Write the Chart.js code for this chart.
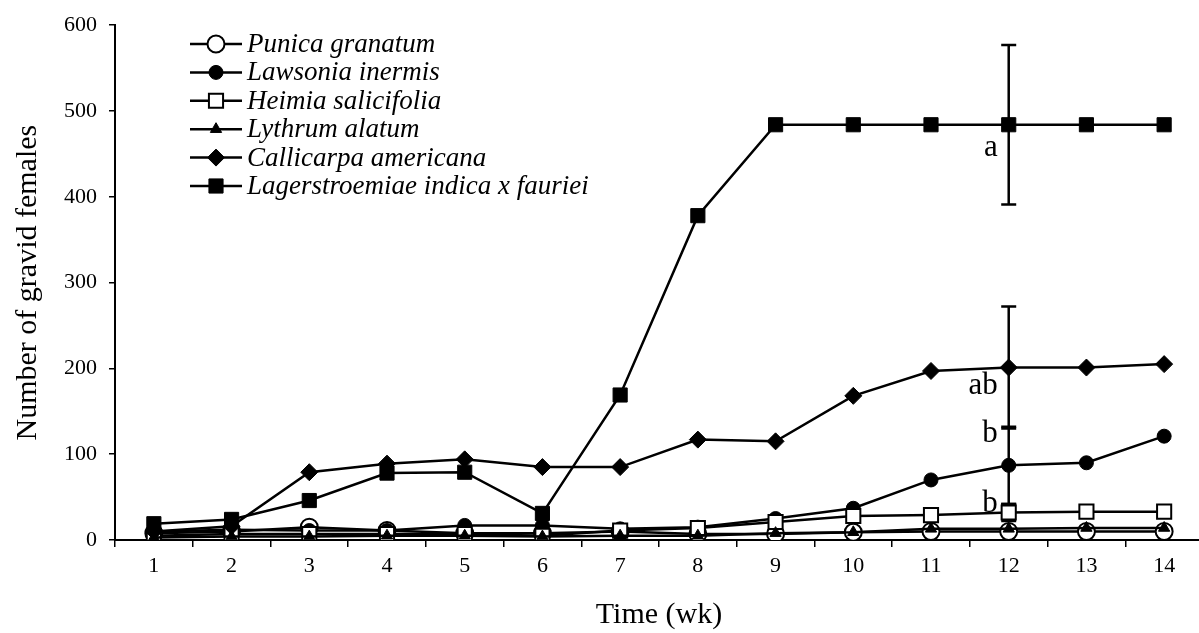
<!DOCTYPE html>
<html>
<head>
<meta charset="utf-8">
<script src="https://cdn.jsdelivr.net/npm/chart.js@4/dist/chart.umd.min.js"></script>
<style>
html,body{margin:0;padding:0;background:#fff;overflow:hidden;}
#wrap{position:relative;width:1215px;height:633px;}
</style>
</head>
<body>
<div id="wrap"><canvas id="c"></canvas></div>
<script>
// ---- data ----
const weeks = ['1','2','3','4','5','6','7','8','9','10','11','12','13','14'];
const seriesNames = ['Punica granatum','Lawsonia inermis','Heimia salicifolia','Lythrum alatum','Callicarpa americana','Lagerstroemiae indica x fauriei'];
const punica        = [8, 10, 15, 11, 8, 8, 10, 7, 7, 9, 10, 10, 10, 10];
const lawsonia      = [10, 12, 11, 11, 17, 17, 13, 15, 25, 37, 70, 87, 90, 121];
const heimia        = [5, 7, 7, 7, 7, 5, 11, 14, 21, 28, 29, 32, 33, 33];
const lythrum       = [3, 4, 4, 5, 5, 4, 5, 5, 8, 9, 13, 13, 14, 14];
const callicarpa    = [10, 16, 79, 89, 94, 85, 85, 117, 115, 168, 197, 201, 201, 205];
const lagerstroemia = [19, 24, 46, 78, 79, 31, 169, 378, 484, 484, 484, 484, 484, 484];
const yTicks = [0, 100, 200, 300, 400, 500, 600];
// error bars at week 12
const errWeek = '12';
const errCenters = [484, 201, 87, 32];
const errHalf    = [93, 71, 45, 10];
// significance letters
const sigLetters = ['a', 'ab', 'b', 'b'];
const sigValues  = [457, 180, 124, 42];

const serif = '"Liberation Serif", "Times New Roman", serif';
const styles = [
  {pointStyle:'circle', radius:8.5, bg:'#fff', bw:2},
  {pointStyle:'circle', radius:7, bg:'#000', bw:1},
  {pointStyle:'rect', radius:10, bg:'#fff', bw:2},
  {pointStyle:'triangle', radius:6.5, bg:'#000', bw:1},
  {pointStyle:'rectRot', radius:8.5, bg:'#000', bw:1},
  {pointStyle:'rect', radius:10, bg:'#000', bw:1}
];
const allData = [punica, lawsonia, heimia, lythrum, callicarpa, lagerstroemia];

const datasets = allData.map((d, i) => ({
  label: seriesNames[i],
  data: d,
  borderColor: '#000',
  borderWidth: 2.5,
  pointStyle: styles[i].pointStyle,
  pointRadius: styles[i].radius,
  pointHoverRadius: styles[i].radius,
  pointBackgroundColor: styles[i].bg,
  pointBorderColor: '#000',
  pointBorderWidth: styles[i].bw,
  fill: false,
  tension: 0,
  order: 6 - i
}));

const errorBarPlugin = {
  id: 'errbars',
  beforeDatasetsDraw(chart) {
    const ctx = chart.ctx, x = chart.scales.x, y = chart.scales.y;
    const px = x.getPixelForValue(weeks.indexOf(errWeek));
    ctx.save();
    ctx.strokeStyle = '#000';
    ctx.lineWidth = 2.5;
    errCenters.forEach((c, i) => {
      const top = y.getPixelForValue(c + errHalf[i]);
      const bot = y.getPixelForValue(c - errHalf[i]);
      ctx.beginPath();
      ctx.moveTo(px, top); ctx.lineTo(px, bot);
      ctx.moveTo(px - 7.5, top); ctx.lineTo(px + 7.5, top);
      ctx.moveTo(px - 7.5, bot); ctx.lineTo(px + 7.5, bot);
      ctx.stroke();
    });
    ctx.restore();
  },
  afterDatasetsDraw(chart) {
    const ctx = chart.ctx, x = chart.scales.x, y = chart.scales.y;
    const px = x.getPixelForValue(weeks.indexOf(errWeek));
    ctx.save();
    ctx.fillStyle = '#000';
    ctx.font = '31px ' + serif;
    ctx.textAlign = 'right';
    ctx.textBaseline = 'middle';
    sigLetters.forEach((t, i) => {
      ctx.fillText(t, px - 11, y.getPixelForValue(sigValues[i]));
    });
    ctx.restore();
  }
};

const legendPlugin = {
  id: 'customLegend',
  afterDraw(chart) {
    const ctx = chart.ctx;
    const x0 = 190, x1 = 242, xm = 216, tx = 247, y0 = 44, dy = 28.4;
    ctx.save();
    seriesNames.forEach((name, i) => {
      const yy = y0 + i * dy;
      ctx.strokeStyle = '#000';
      ctx.lineWidth = 2.5;
      ctx.beginPath(); ctx.moveTo(x0, yy); ctx.lineTo(x1, yy); ctx.stroke();
      ctx.fillStyle = styles[i].bg;
      ctx.lineWidth = styles[i].bw;
      Chart.helpers.drawPoint(ctx, {pointStyle: styles[i].pointStyle, radius: styles[i].radius, rotation: 0, borderWidth: styles[i].bw}, xm, yy);
      ctx.fillStyle = '#000';
      ctx.font = 'italic 27px ' + serif;
      ctx.textAlign = 'left';
      ctx.textBaseline = 'middle';
      ctx.fillText(name, tx, yy + 1);
    });
    ctx.restore();
  }
};

new Chart(document.getElementById('c'), {
  type: 'line',
  data: { labels: weeks, datasets },
  plugins: [errorBarPlugin, legendPlugin],
  options: {
    responsive: true,
    maintainAspectRatio: false,
    animation: false,
    events: [],
    layout: { padding: { top: 24, right: 0, left: 0, bottom: 0 } },
    plugins: { legend: { display: false }, tooltip: { enabled: false } },
    scales: {
      x: {
        type: 'category',
        offset: true,
        grid: { offset: true, drawOnChartArea: false, drawTicks: true, tickLength: 7, color: '#000', lineWidth: 1.5 },
        border: { color: '#000', width: 2 },
        ticks: { color: '#000', font: { family: serif, size: 22 }, padding: 6, maxRotation: 0, autoSkip: false },
        title: { display: true, text: 'Time (wk)', color: '#000', font: { family: serif, size: 30 }, padding: { top: 10, bottom: 0 } },
        afterFit(s) { s.height = 93; }
      },
      y: {
        min: 0, max: 600,
        afterBuildTicks(s) { s.ticks = yTicks.map(v => ({ value: v })); },
        grid: { drawOnChartArea: false, drawTicks: true, tickLength: 6, color: '#000', lineWidth: 1.5 },
        border: { color: '#000', width: 2 },
        ticks: { color: '#000', font: { family: serif, size: 22 }, padding: 12 },
        title: { display: true, text: 'Number of gravid females', color: '#000', font: { family: serif, size: 30 }, padding: { top: 10, bottom: 6 } },
        afterFit(s) { s.width = 115; }
      }
    }
  }
});
</script>
</body>
</html>
